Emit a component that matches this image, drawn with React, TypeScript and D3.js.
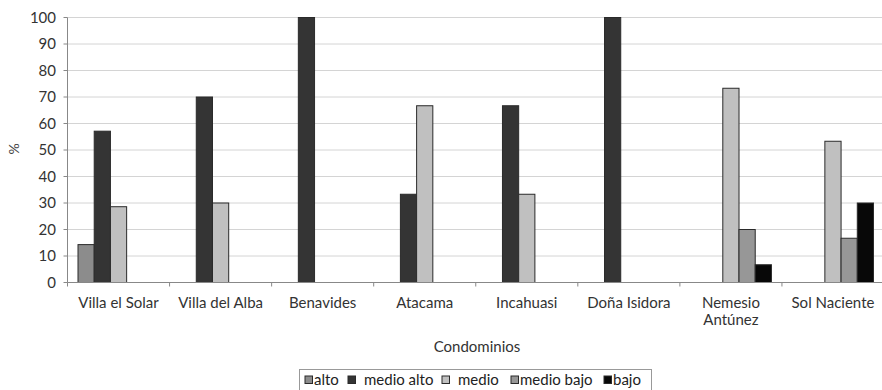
import React from "react";
import * as d3 from "d3";

const categories = [
  ["Villa el Solar"],
  ["Villa del Alba"],
  ["Benavides"],
  ["Atacama"],
  ["Incahuasi"],
  ["Doña Isidora"],
  ["Nemesio", "Antúnez"],
  ["Sol Naciente"],
];
const seriesNames = ["alto", "medio alto", "medio", "medio bajo", "bajo"];
const alto = [14.3, 0, 0, 0, 0, 0, 0, 0];
const medioAlto = [57.1, 70, 100, 33.3, 66.7, 100, 0, 0];
const medio = [28.6, 30, 0, 66.7, 33.3, 0, 73.3, 53.3];
const medioBajo = [0, 0, 0, 0, 0, 0, 20, 16.7];
const bajo = [0, 0, 0, 0, 0, 0, 6.7, 30];
const yTicks = [0, 10, 20, 30, 40, 50, 60, 70, 80, 90, 100];

const colors = ["#8c8c8c", "#343434", "#c0c0c0", "#979797", "#080808"];
const FONT = "Lato, 'Open Sans', sans-serif";

export default function App() {
  const W = 882, H = 390;
  const left = 67.5, right = 884, top = 17.5, bottom = 282.5;
  const series = [alto, medioAlto, medio, medioBajo, bajo];
  const x = d3.scaleBand<number>().domain(d3.range(categories.length)).range([left, right]).paddingInner(0).paddingOuter(0);
  const inner = d3.scaleBand<number>().domain(d3.range(series.length)).range([10.5, x.bandwidth() - 10.5]).padding(0);
  const y = d3.scaleLinear().domain([0, 100]).range([bottom, top]);

  const legendX = [305, 348, 442, 511, 604];
  return (
    <svg width={W} height={H} style={{ position: "absolute", left: 0, top: 0, background: "#fff" }} fontFamily={FONT}>
      {yTicks.map((t) => (
        <g key={t}>
          {t > 0 && <line x1={left} x2={W} y1={y(t)} y2={y(t)} stroke="#d4d4d4" strokeWidth={1} />}
          <line x1={left - 4} x2={left} y1={y(t)} y2={y(t)} stroke="#888" />
          <text x={56} y={y(t)} dy="0.35em" textAnchor="end" fontSize={15} fill="#333">{t}</text>
        </g>
      ))}
      {categories.map((c, i) =>
        series.map((s, j) =>
          s[i] > 0 ? (
            <rect key={`${i}-${j}`} x={x(i)! + inner(j)!} y={y(s[i])} width={inner.bandwidth()} height={bottom - y(s[i])}
              fill={colors[j]} stroke="#2a2a2a" strokeWidth={1} />
          ) : null
        )
      )}
      <line x1={left} x2={left} y1={top} y2={bottom} stroke="#888" />
      <line x1={left} x2={W} y1={bottom} y2={bottom} stroke="#888" />
      {d3.range(categories.length + 1).map((i) => (
        <line key={i} x1={left + i * x.bandwidth()} x2={left + i * x.bandwidth()} y1={bottom} y2={bottom + 4} stroke="#888" />
      ))}
      {categories.map((c, i) => (
        <text key={i} x={x(i)! + x.bandwidth() / 2} y={303} textAnchor="middle" fontSize={15} fill="#333">
          {c.map((line, k) => (
            <tspan key={k} x={x(i)! + x.bandwidth() / 2} dy={k === 0 ? "0.35em" : 17}>{line}</tspan>
          ))}
        </text>
      ))}
      <text x={477} y={347} dy="0.35em" textAnchor="middle" fontSize={15} fill="#333">Condominios</text>
      <text transform="translate(14,149) rotate(-90)" textAnchor="middle" dy="0.35em" fontSize={14} fill="#444">%</text>
      <rect x={299.5} y={369.5} width={352} height={30} fill="none" stroke="#999" />
      {seriesNames.map((n, j) => (
        <g key={n}>
          <rect x={legendX[j]} y={376} width={7.5} height={7.5} fill={colors[j]} stroke="#2a2a2a" />
          <text x={legendX[j] + (j === 1 || j === 2 ? 16 : 9)} y={380} dy="0.35em" fontSize={15} fill="#222">{n}</text>
        </g>
      ))}
    </svg>
  );
}
